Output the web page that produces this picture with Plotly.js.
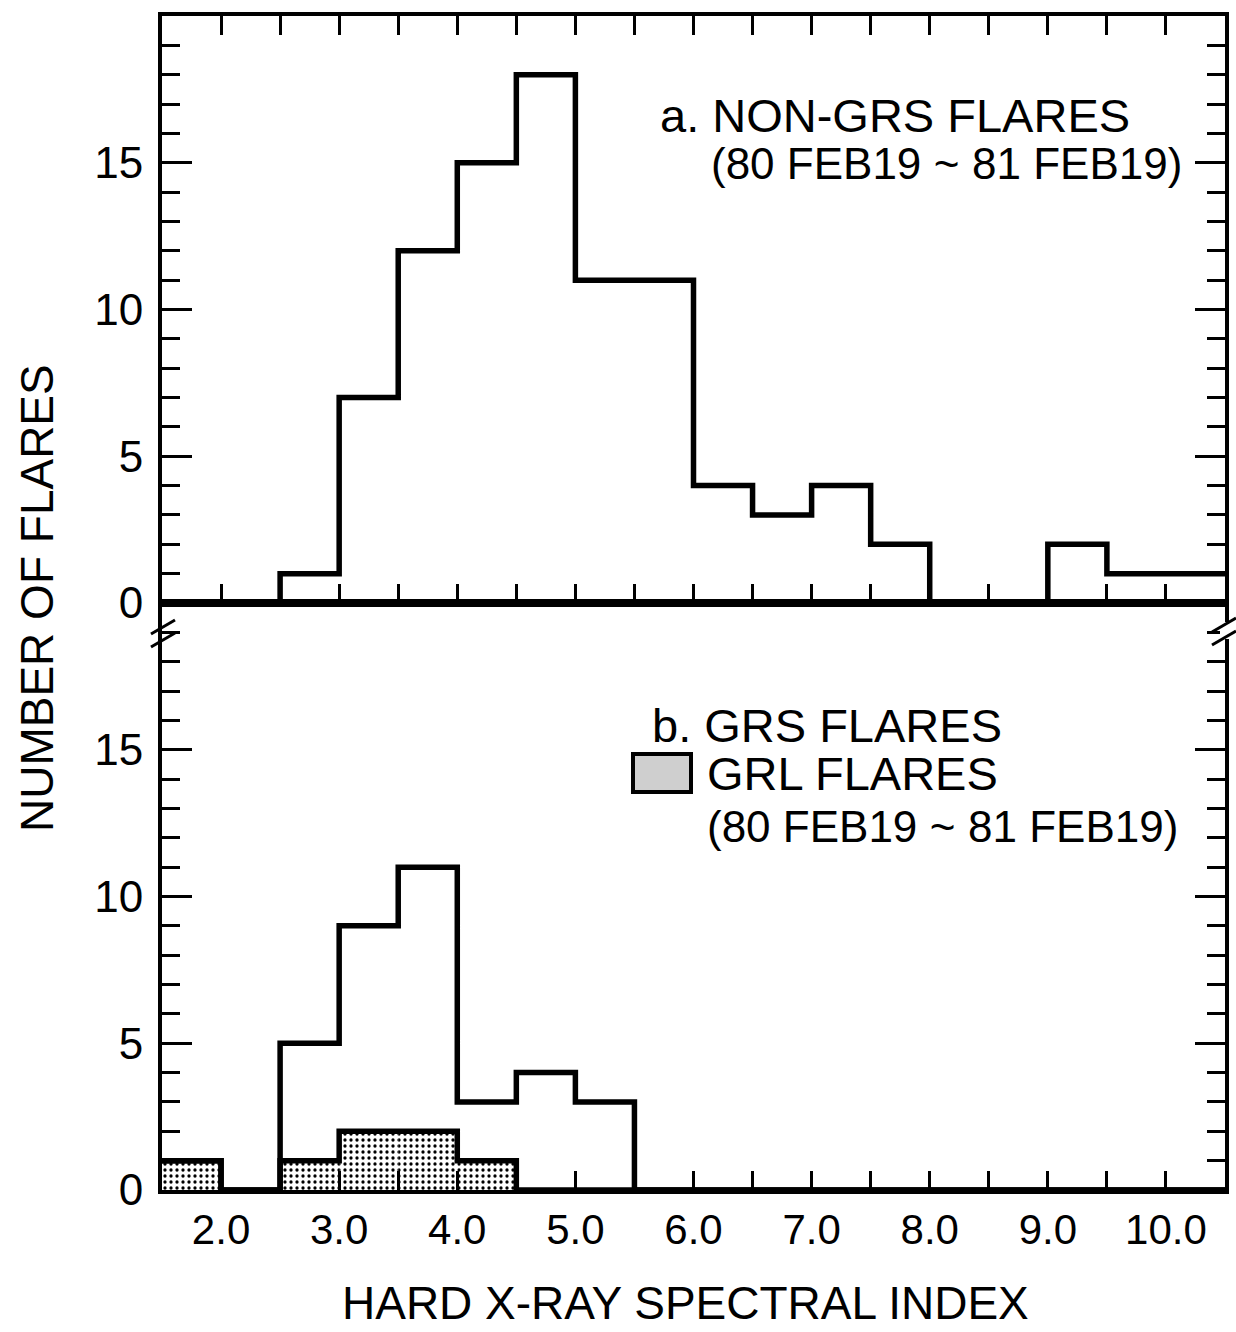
<!DOCTYPE html>
<html>
<head>
<meta charset="utf-8">
<script src="https://cdn.plot.ly/plotly-3.0.1.min.js"></script>
<style>html,body{margin:0;padding:0;background:#fff;}#chart{width:1236px;height:1332px;}</style>
</head>
<body>
<div id="chart"></div>
<script>
// ---- data ----
const binLeft = [1.5, 2.0, 2.5, 3.0, 3.5, 4.0, 4.5, 5.0, 5.5, 6.0, 6.5, 7.0, 7.5, 8.0, 8.5, 9.0, 9.5, 10.0];
const binWidth = 0.5;
const nonGrsCounts = [0, 0, 1, 7, 12, 15, 18, 11, 11, 4, 3, 4, 2, 0, 0, 2, 1, 1];
const grsCounts    = [1, 0, 5, 9, 11, 3, 4, 3, 0, 0, 0, 0, 0, 0, 0, 0, 0, 0];
const grlCounts    = [1, 0, 1, 2, 2, 1, 0, 0, 0, 0, 0, 0, 0, 0, 0, 0, 0, 0];
const xTickVals = [2, 3, 4, 5, 6, 7, 8, 9, 10];
const xTickText = ['2.0', '3.0', '4.0', '5.0', '6.0', '7.0', '8.0', '9.0', '10.0'];
const yTickVals = [0, 5, 10, 15];
const yTickText = ['0', '5', '10', '15'];
const xTitle = 'HARD X-RAY SPECTRAL INDEX';
const yTitle = 'NUMBER OF FLARES';
const labelA1 = 'a. NON-GRS FLARES';
const labelA2 = '(80 FEB19\u2009\u200A~\u2009\u200A81 FEB19)';
const labelB1 = 'b. GRS FLARES';
const labelB2 = 'GRL FLARES';
const labelB3 = '(80 FEB19\u2009\u200A~\u2009\u200A81 FEB19)';

// ---- helpers ----
const FONT = 'Liberation Sans, Arial, Helvetica, sans-serif';
const edges = binLeft.concat([binLeft[binLeft.length - 1] + binWidth]);
function stepY(c) { return c.concat([c[c.length - 1]]); }
const centers = binLeft.map(v => v + binWidth / 2);

// pixel -> paper helpers (layout only)
const L = 162, R = 11, T = 16, B = 142, W = 1236, H = 1332;
const pw = W - L - R, ph = H - T - B;
const px = x => (x - L) / pw;
const py = y => (H - B - y) / ph;

const traces = [
  {
    type: 'bar', x: centers, y: grlCounts, width: binWidth,
    xaxis: 'x', yaxis: 'y', hoverinfo: 'skip', showlegend: false,
    marker: {color: '#ffffff', line: {width: 0},
      pattern: {shape: '.', fgcolor: '#000000', bgcolor: '#ffffff', size: 6, solidity: 0.24}}
  },
  {
    type: 'scatter', mode: 'lines', x: edges, y: stepY(grlCounts),
    xaxis: 'x', yaxis: 'y', line: {shape: 'hv', color: '#000', width: 5.5}, showlegend: false
  },
  {
    type: 'scatter', mode: 'lines', x: edges, y: stepY(grsCounts),
    xaxis: 'x', yaxis: 'y', line: {shape: 'hv', color: '#000', width: 5.5}, showlegend: false
  },
  {
    type: 'scatter', mode: 'lines', x: edges, y: stepY(nonGrsCounts),
    xaxis: 'x2', yaxis: 'y2', line: {shape: 'hv', color: '#000', width: 5.5}, showlegend: false
  }
];

const halfTicks = [];
for (let v = 2.0; v <= 10.01; v += 0.5) halfTicks.push(v);
const unitTicks = [];
for (let v = 1; v <= 19; v++) unitTicks.push(v);

const xCommon = {
  range: [1.5, 10.5], showgrid: false, zeroline: false,
  showline: true, linewidth: 4, linecolor: '#000',
  ticks: 'inside', tickmode: 'array', tickvals: xTickVals, ticktext: xTickText,
  ticklen: 19, tickwidth: 3, tickcolor: '#000',
  minor: {tickmode: 'array', tickvals: halfTicks, ticks: 'inside', ticklen: 19, tickwidth: 3, tickcolor: '#000', showgrid: false},
  tickfont: {family: FONT, size: 42, color: '#000'}, ticklabelstandoff: 0
};
const yCommon = {
  range: [0, 20], showgrid: false, zeroline: false,
  showline: true, linewidth: 4, linecolor: '#000', mirror: 'ticks',
  ticks: 'inside', tickmode: 'array', tickvals: yTickVals, ticktext: yTickText,
  ticklen: 30, tickwidth: 3, tickcolor: '#000',
  minor: {tickmode: 'array', tickvals: unitTicks, ticks: 'inside', ticklen: 18, tickwidth: 3, tickcolor: '#000', showgrid: false},
  tickfont: {family: FONT, size: 44, color: '#000'}, ticklabelstandoff: 6
};

const layout = {
  width: W, height: H,
  margin: {l: L, r: R, t: T, b: B, pad: 0},
  paper_bgcolor: '#fff', plot_bgcolor: 'rgba(0,0,0,0)',
  showlegend: false,
  font: {family: FONT, color: '#000'},
  xaxis: Object.assign({}, xCommon, {anchor: 'y', domain: [0, 1], mirror: true}),
  yaxis: Object.assign({}, yCommon, {anchor: 'x', domain: [0, 0.5]}),
  xaxis2: Object.assign({}, xCommon, {anchor: 'y2', domain: [0, 1], mirror: 'ticks', showticklabels: false, matches: 'x'}),
  yaxis2: Object.assign({}, yCommon, {anchor: 'x2', domain: [0.5, 1]}),
  annotations: [
    {text: xTitle, xref: 'paper', yref: 'paper', x: px(685), y: py(1303), xanchor: 'center', yanchor: 'middle', showarrow: false, font: {size: 46, family: FONT}},
    {text: yTitle, xref: 'paper', yref: 'paper', x: px(37), y: py(598), xanchor: 'center', yanchor: 'middle', textangle: -90, showarrow: false, font: {size: 46, family: FONT}},
    {text: labelA1, xref: 'paper', yref: 'paper', x: px(658), y: py(116), xanchor: 'left', yanchor: 'middle', showarrow: false, font: {size: 47, family: FONT}},
    {text: labelA2, xref: 'paper', yref: 'paper', x: px(709), y: py(163), xanchor: 'left', yanchor: 'middle', showarrow: false, font: {size: 44, family: FONT}},
    {text: labelB1, xref: 'paper', yref: 'paper', x: px(650), y: py(725), xanchor: 'left', yanchor: 'middle', showarrow: false, font: {size: 47, family: FONT}},
    {text: labelB2, xref: 'paper', yref: 'paper', x: px(705), y: py(774), xanchor: 'left', yanchor: 'middle', showarrow: false, font: {size: 47, family: FONT}},
    {text: labelB3, xref: 'paper', yref: 'paper', x: px(705), y: py(827), xanchor: 'left', yanchor: 'middle', showarrow: false, font: {size: 44, family: FONT}}
  ],
  shapes: [
    // legend swatch
    {type: 'rect', xref: 'paper', yref: 'paper', x0: px(633), x1: px(691), y0: py(754), y1: py(792),
     fillcolor: '#cfcfcf', line: {color: '#000', width: 4}},
    // axis break marks (left)
    {type: 'line', xref: 'paper', yref: 'paper', x0: px(151), y0: py(634), x1: px(175), y1: py(620), line: {color: '#000', width: 3}},
    {type: 'line', xref: 'paper', yref: 'paper', x0: px(151), y0: py(647), x1: px(175), y1: py(633), line: {color: '#000', width: 3}},
    // axis break marks (right)
    {type: 'rect', xref: 'paper', yref: 'paper', x0: px(1220), x1: px(1230), y0: py(622), y1: py(639), fillcolor: '#fff', line: {width: 0}},
    {type: 'line', xref: 'paper', yref: 'paper', x0: px(1212), y0: py(632), x1: px(1236), y1: py(618), line: {color: '#000', width: 3}},
    {type: 'line', xref: 'paper', yref: 'paper', x0: px(1212), y0: py(645), x1: px(1236), y1: py(631), line: {color: '#000', width: 3}}
  ]
};

Plotly.newPlot('chart', traces, layout, {staticPlot: true, displayModeBar: false});
</script>
</body>
</html>
